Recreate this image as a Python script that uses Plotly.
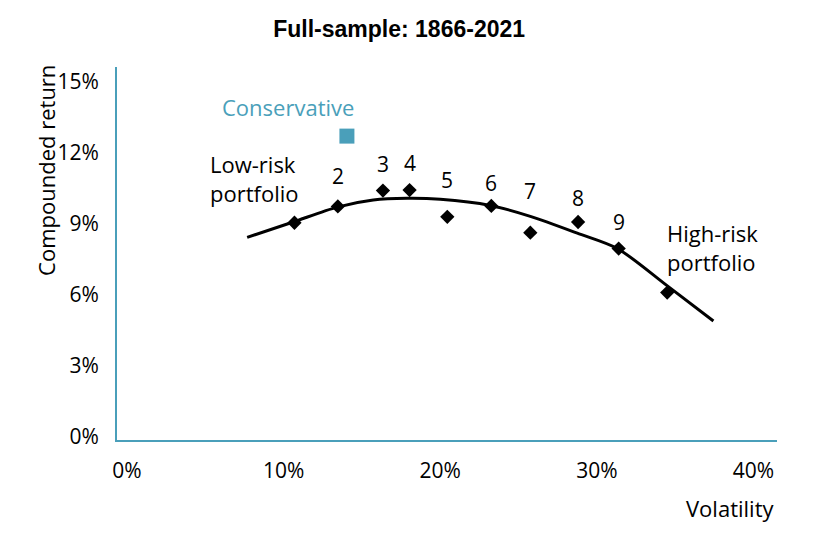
import plotly.graph_objects as go

# Portfolio points (volatility %, compounded return %)
portfolio_labels = ["1", "2", "3", "4", "5", "6", "7", "8", "9", "10"]
volatility = [10.69, 13.46, 16.34, 18.04, 20.45, 23.26, 25.75, 28.80, 31.39, 34.49]
returns = [9.04, 9.73, 10.40, 10.42, 9.29, 9.75, 8.62, 9.07, 7.95, 6.09]

# Conservative portfolio
cons_vol = [14.04]
cons_ret = [12.70]

# Fitted curve
curve_vol = [7.67, 10.61, 13.42, 15.72, 17.89, 20.00, 23.19, 25.75, 28.75, 31.31, 34.50, 37.44]
curve_ret = [8.42, 9.07, 9.70, 10.00, 10.07, 10.03, 9.77, 9.31, 8.60, 7.95, 6.37, 4.89]

x_ticks = [0, 10, 20, 30, 40]
x_ticklabels = ["0%", "10%", "20%", "30%", "40%"]
y_ticks = [0, 3, 6, 9, 12, 15]
y_ticklabels = ["0%", "3%", "6%", "9%", "12%", "15%"]

TEAL = "#4a9fba"
FONT = "Open Sans"

fig = go.Figure()
fig.add_trace(go.Scatter(x=curve_vol, y=curve_ret, mode="lines",
                         line=dict(color="black", width=3, shape="spline", smoothing=0.8),
                         hoverinfo="skip", showlegend=False))
fig.add_trace(go.Scatter(x=volatility, y=returns, mode="markers",
                         marker=dict(symbol="diamond", size=11, color="black"),
                         showlegend=False))
fig.add_trace(go.Scatter(x=cons_vol, y=cons_ret, mode="markers",
                         marker=dict(symbol="square", size=15, color=TEAL),
                         showlegend=False))

annotations = []
label_shift = {"2": 30, "3": 27, "4": 27, "5": 37, "6": 23, "7": 42, "8": 24, "9": 27}
for lab, xv, yv in zip(portfolio_labels, volatility, returns):
    if lab in label_shift:
        annotations.append(dict(x=xv, y=yv, text=lab, showarrow=False, yshift=label_shift[lab],
                                font=dict(size=21, color="black", family=FONT)))

annotations.append(dict(x=cons_vol[0], y=cons_ret[0], text="Conservative", showarrow=False,
                        xshift=-59, yshift=29, font=dict(size=22, color=TEAL, family=FONT)))
annotations.append(dict(x=volatility[0], y=returns[0], text="Low-risk<br>portfolio", showarrow=False,
                        xanchor="left", align="left", xshift=-86, yshift=44,
                        font=dict(size=22, color="black", family=FONT)))
annotations.append(dict(x=volatility[-1], y=returns[-1], text="High-risk<br>portfolio", showarrow=False,
                        xanchor="left", align="left", xshift=-2, yshift=45,
                        font=dict(size=22, color="black", family=FONT)))
annotations.append(dict(xref="paper", yref="paper", x=0.9985, y=-0.182, text="Volatility",
                        showarrow=False, xanchor="right", yanchor="middle",
                        font=dict(size=22, color="black", family=FONT)))
annotations.append(dict(xref="paper", yref="paper", x=-0.1076, y=0.724, text="Compounded return",
                        showarrow=False, textangle=-90, xanchor="center", yanchor="middle",
                        font=dict(size=22, color="black", family=FONT)))

fig.update_layout(
    width=820, height=530,
    margin=dict(l=109, r=51, t=59, b=98),
    paper_bgcolor="white", plot_bgcolor="white",
    title=dict(text="<b>Full-sample: 1866-2021</b>", x=0.477, xanchor="center",
               y=0.96, yanchor="middle", font=dict(size=23, color="black", family="Liberation Sans")),
    xaxis=dict(range=[-0.64, 41.5], tickvals=x_ticks, ticktext=x_ticklabels,
               showgrid=False, zeroline=False, showline=True, linecolor=TEAL, linewidth=2,
               ticks="", tickfont=dict(size=21, color="black", family=FONT), ticklabelstandoff=11),
    yaxis=dict(range=[-0.14, 15.62], tickvals=y_ticks, ticktext=y_ticklabels,
               showgrid=False, zeroline=False, showline=True, linecolor=TEAL, linewidth=2,
               ticks="", tickfont=dict(size=21, color="black", family=FONT), ticklabelstandoff=12),
    annotations=annotations,
    showlegend=False,
)

fig.write_html("out.html")
